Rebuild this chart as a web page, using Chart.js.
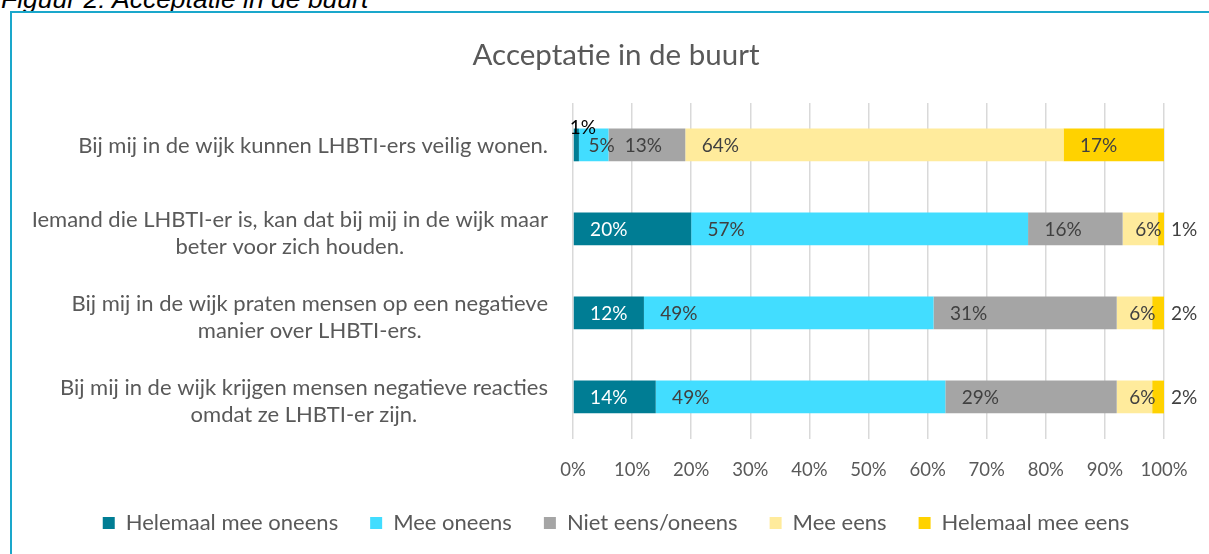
<!DOCTYPE html>
<html>
<head>
<meta charset="utf-8">
<script src="https://cdn.jsdelivr.net/npm/chart.js@4"></script>
<style>
    html, body { margin: 0; padding: 0; background: #fff; overflow: hidden; }
    #caption {
        position: absolute; left: 1px; top: -14px;
        font: italic 26.5px "Liberation Sans", Arial, sans-serif; line-height: 26px;
        color: #000; white-space: nowrap;
    }
    #frame {
        position: absolute; left: 10px; top: 11px; width: 1199px; height: 543px;
        border-top: 2px solid #1aa7cb; border-left: 2px solid #1aa7cb;
    }
    #wrap { position: absolute; left: 0; top: 0; width: 1209px; height: 554px; }
</style>
</head>
<body>
<div id="caption">Figuur 2: Acceptatie in de buurt</div>
<div id="frame"></div>
<div id="wrap"><canvas id="chart"></canvas></div>
<script>
const categories = [
    ["Bij mij in de wijk kunnen LHBTI-ers veilig wonen."],
    ["Iemand die LHBTI-er is, kan dat bij mij in de wijk maar", "beter voor zich houden."],
    ["Bij mij in de wijk praten mensen op een negatieve", "manier over LHBTI-ers."],
    ["Bij mij in de wijk krijgen mensen negatieve reacties", "omdat ze LHBTI-er zijn."]
];
const seriesNames = ["Helemaal mee oneens", "Mee oneens", "Niet eens/oneens", "Mee eens", "Helemaal mee eens"];
const helemaalOneens = [1, 20, 12, 14];
const meeOneens = [5, 57, 49, 49];
const nietEens = [13, 16, 31, 29];
const meeEens = [64, 6, 6, 6];
const helemaalEens = [17, 1, 2, 2];
const xTicks = [0, 10, 20, 30, 40, 50, 60, 70, 80, 90, 100];

const colors = ["#007d94", "#42ddff", "#a5a5a5", "#ffeb9c", "#ffd200"];
const grey = "#595959";
const FONT = "Lato, 'Open Sans', sans-serif";

// y labels: each block right aligned, lines centered inside the block
const yLabels = {
    id: "yLabels",
    afterDraw(chart) {
        const ctx = chart.ctx;
        const y = chart.scales.y;
        const right = chart.chartArea.left - 25;
        const lh = 27;
        ctx.save();
        ctx.font = "22px " + FONT;
        ctx.fillStyle = grey;
        ctx.textAlign = "center";
        ctx.textBaseline = "middle";
        categories.forEach((lines, i) => {
            const w = Math.max(...lines.map(l => ctx.measureText(l).width));
            const cy = y.getPixelForValue(i) + (lines.length > 1 ? 4 : 1);
            lines.forEach((l, j) => {
                ctx.fillText(l, right - w / 2, cy + (j - (lines.length - 1) / 2) * lh);
            });
        });
        ctx.restore();
    }
};

// value labels in the bars, a bit like Excel put them
const valueLabels = {
    id: "valueLabels",
    afterDatasetsDraw(chart) {
        const ctx = chart.ctx;
        const last = chart.data.datasets.length - 1;
        ctx.save();
        ctx.font = "19px " + FONT;
        ctx.textBaseline = "middle";
        chart.data.datasets.forEach((ds, di) => {
            chart.getDatasetMeta(di).data.forEach((bar, i) => {
                const v = ds.data[i];
                const s = bar.base, e = bar.x, w = e - s;
                const txt = v + "%";
                ctx.textAlign = "center";
                ctx.fillStyle = di === 0 ? "#fff" : "#404040";
                if (di === 0 && v <= 1) {
                    ctx.fillStyle = "#000";
                    ctx.fillText(txt, e + 4, bar.y - bar.height / 2 - 1);
                } else if (di === last && v <= 2) {
                    ctx.textAlign = "left";
                    ctx.fillText(txt, e + 7, bar.y + 1);
                } else if (w < 40) {
                    ctx.fillText(txt, s + w / 2 + 8, bar.y + 1);
                } else {
                    ctx.fillText(txt, s + Math.min(w / 2, 35), bar.y + 1);
                }
            });
        });
        ctx.restore();
    }
};

const values = [helemaalOneens, meeOneens, nietEens, meeEens, helemaalEens];

new Chart(document.getElementById("chart"), {
    type: "bar",
    data: {
        labels: categories.map(c => c.join(" ")),
        datasets: seriesNames.map((name, i) => ({
            label: name,
            data: values[i],
            backgroundColor: colors[i],
            borderWidth: 0,
            categoryPercentage: 1,
            barPercentage: 0.39,
        })),
    },
    options: {
        indexAxis: "y",
        responsive: true,
        maintainAspectRatio: false,
        animation: false,
        layout: { padding: { left: 68, right: 45, top: 10, bottom: 10 } },
        scales: {
            x: {
                stacked: true,
                min: 0,
                max: 100,
                afterBuildTicks(scale) { scale.ticks = xTicks.map(v => ({ value: v })); },
                afterFit(scale) { scale.height = 41; },
                ticks: {
                    callback: v => v + "%",
                    color: grey,
                    font: { family: FONT, size: 18.5 },
                    padding: 20,
                    maxRotation: 0,
                },
                grid: { color: "#d9d9d9", lineWidth: 1.5, drawTicks: false },
                border: { display: false },
            },
            y: {
                stacked: true,
                ticks: { display: false },
                grid: { display: false },
                border: { display: false },
                afterFit(scale) { scale.width = 505; },
            },
        },
        plugins: {
            title: {
                display: true,
                text: "Acceptatie in de buurt",
                color: grey,
                font: { family: FONT, size: 29.5, weight: "normal" },
                padding: { top: 28, bottom: 29.5 },
            },
            legend: {
                position: "bottom",
                labels: {
                    boxWidth: 12,
                    boxHeight: 12,
                    padding: 32,
                    color: grey,
                    font: { family: FONT, size: 22 },
                },
            },
            tooltip: { enabled: false },
        },
    },
    plugins: [yLabels, valueLabels],
});
</script>
</body>
</html>
